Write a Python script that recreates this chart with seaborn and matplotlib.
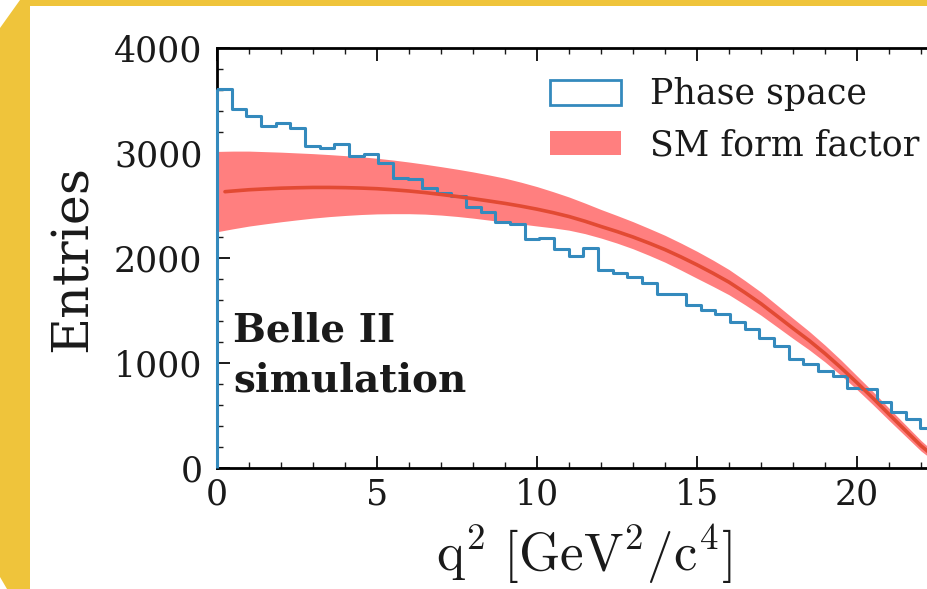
import numpy as np
import pandas as pd
import matplotlib
matplotlib.use("Agg")
import matplotlib.pyplot as plt
import seaborn as sns
from matplotlib.patches import Patch, Polygon
from matplotlib.ticker import MultipleLocator

# ---------------- data ----------------
q2_max = 22.9
n_bins = 50
phase_space_counts = [3610, 3420, 3355, 3255, 3290, 3240, 3065, 3050, 3090, 2970,
                      2990, 2905, 2765, 2750, 2670, 2615, 2590, 2490, 2440, 2345,
                      2325, 2180, 2195, 2090, 2015, 2095, 1890, 1860, 1820, 1765,
                      1655, 1655, 1550, 1505, 1465, 1395, 1320, 1235, 1165, 1040,
                      995, 925, 880, 760, 750, 630, 535, 465, 380, 290]

q2_curve = [0.0, 0.5, 1.0, 1.5, 2.0, 2.5, 3.0, 3.5, 4.0, 4.5, 5.0, 5.5, 6.0,
            6.5, 7.0, 7.5, 8.0, 8.5, 9.0, 9.5, 10.0, 10.5, 11.0, 11.5, 12.0,
            12.5, 13.0, 13.5, 14.0, 14.5, 15.0, 15.5, 16.0, 16.5, 17.0, 17.5,
            18.0, 18.5, 19.0, 19.5, 20.0, 20.5, 21.0, 21.5, 22.0, 22.5, 22.9]
sm_center = [2625, 2638, 2650, 2658, 2665, 2669, 2672, 2672, 2670, 2666, 2660,
             2650, 2638, 2623, 2605, 2586, 2565, 2543, 2520, 2494, 2465, 2432,
             2395, 2350, 2300, 2252, 2200, 2142, 2080, 2010, 1935, 1855, 1770,
             1670, 1565, 1448, 1330, 1215, 1090, 955, 812, 665, 512, 362, 212,
             85, 0]
sm_upper = [3015, 3018, 3018, 3013, 3008, 3001, 2994, 2985, 2975, 2964, 2950,
            2933, 2914, 2893, 2870, 2846, 2820, 2791, 2760, 2722, 2680, 2632,
            2581, 2523, 2462, 2405, 2346, 2282, 2216, 2142, 2064, 1980, 1890,
            1785, 1675, 1551, 1426, 1303, 1170, 1028, 877, 727, 570, 416, 262,
            125, 20]
sm_lower = [2250, 2278, 2304, 2325, 2345, 2363, 2380, 2394, 2405, 2414, 2420,
            2422, 2422, 2418, 2409, 2396, 2380, 2361, 2342, 2324, 2305, 2287,
            2265, 2232, 2190, 2142, 2088, 2026, 1960, 1885, 1807, 1730, 1650,
            1555, 1455, 1345, 1234, 1127, 1010, 882, 747, 603, 454, 308, 162,
            45, 0]
line_start = 0.25  # the central curve starts slightly right of zero

labels = ["Phase space", "SM form factor"]

# ---------------- style ----------------
sns.set_theme(style="ticks")
plt.rcParams["font.family"] = ["DejaVu Serif"]
plt.rcParams["mathtext.fontset"] = "cm"

blue = "#348ABD"
band_col = "#FF7F7F"
line_col = "#E24A33"
text_col = "#1a1a1a"

fig = plt.figure(figsize=(9.28, 5.89), dpi=100)
fig.patch.set_facecolor("white")

# decorative yellow frame (pixel coordinates converted to figure fraction)
W, H = 928.0, 589.0
frame_px = [(20, 0), (928, 0), (928, 6), (30, 6), (30, 589), (7, 589),
            (0, 577), (0, 28)]
frame = Polygon([(x / W, 1 - y / H) for x, y in frame_px], closed=True,
                transform=fig.transFigure, facecolor="#EFC43B",
                edgecolor="none", zorder=0)
fig.patches.append(frame)

ax_left, ax_right, ax_bottom, ax_top = 217, 949.8, 468, 48
ax = fig.add_axes([ax_left / W, 1 - ax_bottom / H,
                   (ax_right - ax_left) / W, (ax_bottom - ax_top) / H])
ax.set_facecolor("white")

edges = np.linspace(0, q2_max, n_bins + 1)
centers = 0.5 * (edges[:-1] + edges[1:])
hist_df = pd.DataFrame({"q2": centers, "w": phase_space_counts})
sns.histplot(data=hist_df, x="q2", weights="w", bins=n_bins,
             binrange=(0, q2_max), element="step",
             fill=False, color=blue, linewidth=2.2, ax=ax, zorder=3)
ax.vlines(edges[0], 0, phase_space_counts[0], color=blue, linewidth=2.2,
          zorder=4, clip_on=False)

ax.fill_between(q2_curve, sm_lower, sm_upper, color=band_col, linewidth=0,
                zorder=2)
curve_df = pd.DataFrame({"q2": q2_curve, "sm": sm_center})
curve_df = curve_df[curve_df["q2"] >= 0.5]
curve_df = pd.concat([pd.DataFrame({"q2": [line_start],
                                    "sm": [np.interp(line_start, q2_curve, sm_center)]}),
                      curve_df], ignore_index=True)
sns.lineplot(data=curve_df, x="q2", y="sm", color=line_col, linewidth=2.6,
             ax=ax, zorder=3, sort=False, estimator=None)

ax.set_xlim(0, q2_max)
ax.set_ylim(0, 4000)
ax.xaxis.set_major_locator(MultipleLocator(5))
ax.xaxis.set_minor_locator(MultipleLocator(1))
ax.yaxis.set_major_locator(MultipleLocator(1000))
ax.yaxis.set_minor_locator(MultipleLocator(200))
ax.tick_params(which="both", direction="in", top=True, right=True,
               labelsize=25, colors=text_col)
ax.tick_params(which="major", length=9, width=1.4)
ax.tick_params(which="minor", length=4.5, width=1.0)
ax.tick_params(axis="x", which="major", pad=6.5)
ax.tick_params(axis="y", which="major", pad=10.5)
for s in ax.spines.values():
    s.set_linewidth(2.0)
    s.set_color("black")

ax.set_xlabel(r"$\mathrm{q^2\ [GeV^2/c^4]}$", fontsize=38, labelpad=8,
              color=text_col)
ax.set_ylabel("Entries", fontsize=36.5, labelpad=12, color=text_col)

ax.text(0.022, 0.300, "Belle II", transform=ax.transAxes,
        fontsize=28, fontweight="bold", va="baseline", ha="left",
        color=text_col)
ax.text(0.022, 0.181, "simulation", transform=ax.transAxes,
        fontsize=28, fontweight="bold", va="baseline", ha="left",
        color=text_col)

handles = [Patch(facecolor="white", edgecolor=blue, linewidth=2.0),
           Patch(facecolor=band_col, edgecolor="none")]
ax.legend(handles, labels, loc="upper left",
          bbox_to_anchor=((550 - ax_left) / (ax_right - ax_left), 0.930),
          frameon=False, fontsize=25, borderpad=0, handlelength=2.05,
          handleheight=0.72, handletextpad=0.84, labelspacing=0.48,
          borderaxespad=0, labelcolor=text_col)

fig.savefig("out.png", dpi=100)
